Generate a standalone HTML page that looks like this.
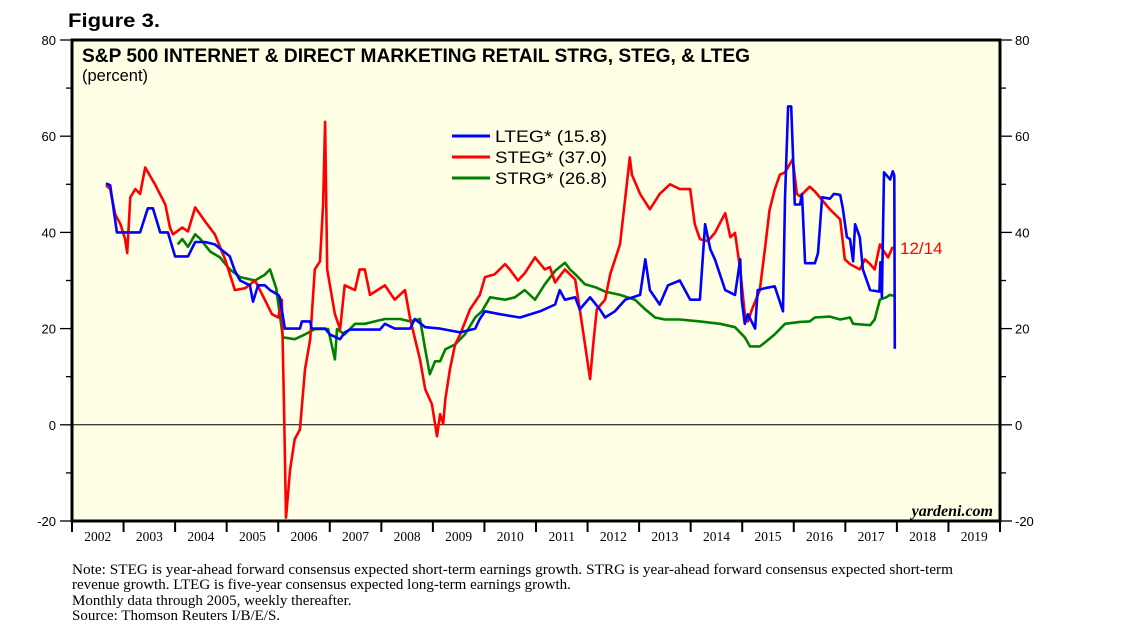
<!DOCTYPE html>
<html><head><meta charset="utf-8"><style>
body{margin:0;background:#fff;width:1138px;height:637px;overflow:hidden;font-family:"Liberation Sans",sans-serif}
</style></head><body>
<svg id="chart" width="1138" height="637" xmlns="http://www.w3.org/2000/svg" font-family="Liberation Sans, sans-serif">
<text x="68" y="27" font-size="19" font-weight="bold" textLength="92" lengthAdjust="spacingAndGlyphs">Figure 3.</text>
<rect x="72" y="40" width="928" height="481" fill="#ffffe6"/>
<g id="axes"></g>
<g id="series"></g>
<rect x="72" y="40" width="928" height="481" fill="none" stroke="#000" stroke-width="3"/>
<text x="82" y="62" font-size="19" font-weight="bold" textLength="668" lengthAdjust="spacingAndGlyphs">S&amp;P 500 INTERNET &amp; DIRECT MARKETING RETAIL STRG, STEG, &amp; LTEG</text>
<text x="82" y="81" font-size="16.5">(percent)</text>
<g font-size="16.5">
<line x1="452" y1="136" x2="490" y2="136" stroke="#0000ff" stroke-width="3"/>
<text x="495" y="142" textLength="112" lengthAdjust="spacingAndGlyphs">LTEG* (15.8)</text>
<line x1="452" y1="157" x2="490" y2="157" stroke="#ff0000" stroke-width="3"/>
<text x="495" y="163" textLength="112" lengthAdjust="spacingAndGlyphs">STEG* (37.0)</text>
<line x1="452" y1="178" x2="490" y2="178" stroke="#008000" stroke-width="3"/>
<text x="495" y="184" textLength="112" lengthAdjust="spacingAndGlyphs">STRG* (26.8)</text>
</g>
<text x="900" y="254" font-size="17" fill="#ff0000">12/14</text>
<text x="993" y="516" font-size="16" font-weight="bold" font-style="italic" text-anchor="end" font-family="Liberation Serif, serif">yardeni.com</text>
<g font-family="Liberation Serif, serif" font-size="15">
<text x="72" y="574" textLength="881" lengthAdjust="spacingAndGlyphs">Note: STEG is year-ahead forward consensus expected short-term earnings growth. STRG is year-ahead forward consensus expected short-term</text>
<text x="72" y="589">revenue growth. LTEG is five-year consensus expected long-term earnings growth.</text>
<text x="72" y="605">Monthly data through 2005, weekly thereafter.</text>
<text x="72" y="620">Source: Thomson Reuters I/B/E/S.</text>
</g>
</svg>
<script>
const yTicks=[80,60,40,20,0,-20];
const yearLabels=[2002,2003,2004,2005,2006,2007,2008,2009,2010,2011,2012,2013,2014,2015,2016,2017,2018,2019];
const ltegYears=[2002.66,2002.74,2002.87,2003.32,2003.47,2003.57,2003.71,2003.86,2004.00,2004.25,2004.39,2004.58,2004.77,2005.06,2005.16,2005.26,2005.45,2005.51,2005.61,2005.74,2005.84,2006.00,2006.03,2006.13,2006.42,2006.46,2006.62,2006.65,2006.91,2007.00,2007.20,2007.29,2007.39,2007.97,2008.07,2008.26,2008.56,2008.65,2008.85,2009.14,2009.53,2009.82,2009.91,2010.01,2010.30,2010.69,2011.08,2011.37,2011.46,2011.56,2011.76,2011.85,2012.05,2012.24,2012.34,2012.53,2012.73,2013.02,2013.12,2013.21,2013.40,2013.56,2013.79,2013.99,2014.18,2014.28,2014.38,2014.47,2014.67,2014.86,2014.96,2014.99,2015.05,2015.11,2015.25,2015.30,2015.44,2015.63,2015.79,2015.83,2015.89,2015.95,2016.02,2016.12,2016.16,2016.22,2016.41,2016.47,2016.55,2016.70,2016.78,2016.90,2016.95,2017.03,2017.09,2017.15,2017.19,2017.28,2017.34,2017.48,2017.66,2017.68,2017.71,2017.75,2017.87,2017.92,2017.95,2017.96];
const ltegValues=[50.2,49.8,40,40,45,45,40,40,35,35,38,38,37.5,35,32,30,29,25.6,29,29,28,27,26.5,20,20,21.5,21.5,20,20,18.8,17.8,19.2,19.8,19.8,21,20,20,22,20.3,20,19.2,20,22,23.6,23,22.3,23.6,25,28,26,26.5,24,26.5,24,22.3,23.6,26,27,34.4,28,25,29,30,26,26,41.7,36.5,34.4,28,27,34.4,26,21,23,20,28,28.4,28.8,23.6,47,66.2,66.2,45.8,45.8,48,33.6,33.6,35.7,47.3,47,48,47.8,45,39,38.6,34,41.7,39,32.3,28,27.7,33.8,26.5,52.5,51,52.7,51.8,15.8];
const stegYears=[2002.66,2002.74,2002.84,2002.94,2003.03,2003.07,2003.13,2003.23,2003.32,2003.42,2003.61,2003.81,2003.90,2003.96,2004.14,2004.25,2004.39,2004.58,2004.77,2004.97,2005.16,2005.36,2005.55,2005.74,2005.88,2006.00,2006.07,2006.11,2006.15,2006.23,2006.32,2006.42,2006.52,2006.62,2006.71,2006.81,2006.87,2006.91,2006.95,2007.10,2007.20,2007.29,2007.49,2007.58,2007.68,2007.78,2008.07,2008.26,2008.46,2008.56,2008.75,2008.85,2008.98,2009.08,2009.14,2009.20,2009.24,2009.33,2009.43,2009.53,2009.72,2009.91,2010.01,2010.20,2010.40,2010.49,2010.65,2010.78,2010.98,2011.17,2011.27,2011.37,2011.56,2011.76,2011.85,2011.95,2012.05,2012.11,2012.18,2012.34,2012.44,2012.63,2012.73,2012.82,2012.86,2013.02,2013.21,2013.40,2013.60,2013.79,2013.99,2014.08,2014.18,2014.33,2014.47,2014.67,2014.77,2014.86,2014.96,2015.05,2015.11,2015.19,2015.34,2015.44,2015.53,2015.63,2015.73,2015.83,2015.98,2016.06,2016.12,2016.31,2016.41,2016.70,2016.90,2016.99,2017.09,2017.28,2017.38,2017.48,2017.57,2017.67,2017.75,2017.83,2017.92,2017.95];
const stegValues=[49.8,49,43.7,41.7,38.6,35.7,47.3,49,48,53.5,50,45.8,41,39.6,41,40.2,45.2,42.3,39.6,34.4,28,28.4,30,26,23,22.3,26,5,-19.3,-9.3,-3,-1,11.5,17.8,32.3,34,45.8,63,32.3,23,19.9,29,28,32.3,32.3,27,29,26,28,22,13.6,7.4,4.3,-2.4,2.2,0.2,5.3,11.5,16.7,18.8,24,27,30.7,31.3,33.4,32.3,30,31.5,34.8,32.3,32.8,29.6,32.3,30.2,24,16.7,9.5,16.7,24,26,31.3,37.5,47,55.6,52,48,44.8,48,50,49,49,41.7,38.6,38.2,39.9,44,39,39.9,32.3,23,21.5,24,28,36.5,44.6,48.9,52,52.5,55.2,48,47.5,49.5,48.5,44.8,42.7,34.4,33.4,32.3,34.4,33.4,32.3,37.5,36,34.8,37];
const strgYears=[2004.05,2004.14,2004.25,2004.39,2004.49,2004.68,2004.87,2005.06,2005.26,2005.55,2005.74,2005.84,2005.96,2006.09,2006.32,2006.52,2006.71,2006.91,2006.97,2007.10,2007.14,2007.29,2007.49,2007.68,2008.07,2008.36,2008.56,2008.75,2008.85,2008.94,2009.04,2009.14,2009.24,2009.43,2009.62,2009.82,2009.95,2010.11,2010.40,2010.59,2010.78,2010.98,2011.17,2011.37,2011.56,2011.66,2011.76,2011.95,2012.15,2012.34,2012.63,2012.92,2013.12,2013.31,2013.50,2013.79,2014.18,2014.57,2014.86,2015.05,2015.15,2015.34,2015.44,2015.63,2015.83,2016.12,2016.31,2016.41,2016.70,2016.90,2017.09,2017.15,2017.48,2017.57,2017.67,2017.81,2017.86,2017.95];
const strgValues=[37.5,38.6,37,39.6,38.6,36,34.8,32.3,30.7,30,31.2,32.3,28.4,18.2,17.8,18.8,19.9,19.9,19.9,13.6,19.9,18.8,21,21,22,22,21.5,22,15.7,10.5,13.2,13.2,15.7,16.7,18.8,22.3,23.6,26.5,26,26.5,28,26,29.2,32,33.7,32.3,31.3,29.2,28.6,27.7,27,26,24,22.3,21.9,21.9,21.5,21,20.3,18.2,16.3,16.3,17.1,18.8,21,21.4,21.5,22.3,22.5,21.9,22.3,21,20.7,21.9,26,26.6,27,26.8];

const NS='http://www.w3.org/2000/svg';
const L=72,R=1000,T=40,B=521,yMin=-20,yMax=80,x0=2002,x1=2020;
const xs=v=>L+(v-x0)/(x1-x0)*(R-L);
const ys=v=>B-(v-yMin)/(yMax-yMin)*(B-T);
const axes=document.getElementById('axes'),ser=document.getElementById('series');
function mk(tag,attrs,parent){const e=document.createElementNS(NS,tag);for(const k in attrs)e.setAttribute(k,attrs[k]);parent.appendChild(e);return e;}
const zl=mk('line',{x1:L,x2:R,y1:ys(0),y2:ys(0),stroke:'#000','stroke-width':1},axes);


for(let v=yMin;v<=yMax;v+=10){
  const major=v%20===0;const len=major?12:6;
  const a=mk('line',{x1:L-len,x2:L,y1:ys(v),y2:ys(v),stroke:'#000','stroke-width':1.3},axes);
  
  
  const b=mk('line',{x1:R,x2:R+len,y1:ys(v),y2:ys(v),stroke:'#000','stroke-width':1.3},axes);
  
  
}
yTicks.forEach(v=>{
  const t=mk('text',{x:L-16,y:ys(v)+5,'font-size':13,'text-anchor':'end'},axes);t.textContent=v;
  
  
  const t2=mk('text',{x:R+15,y:ys(v)+5,'font-size':13},axes);t2.textContent=v;
  
  
});
for(let yr=x0;yr<=x1;yr++){
  const l=mk('line',{x1:xs(yr),x2:xs(yr),y1:B,y2:B+11,stroke:'#000','stroke-width':2},axes);
  
  
}
yearLabels.forEach(yr=>{
  const t=mk('text',{x:xs(yr+0.5),y:B+20,'font-size':13.5,'text-anchor':'middle','font-family':'Liberation Serif, serif'},axes);t.textContent=yr;
  
  
});
function line(years,vals,color,name){
  const d=years.map((y,i)=>(i?'L':'M')+xs(y).toFixed(1)+','+ys(vals[i]).toFixed(1)).join('');
  const p=mk('path',{d:d,fill:'none',stroke:color,'stroke-width':2.6,'stroke-linejoin':'round'},ser);
  
  
}
line(strgYears,strgValues,'#008000','strg-line');
line(stegYears,stegValues,'#ff0000','steg-line');
line(ltegYears,ltegValues,'#0000ff','lteg-line');
</script>
</body></html>
